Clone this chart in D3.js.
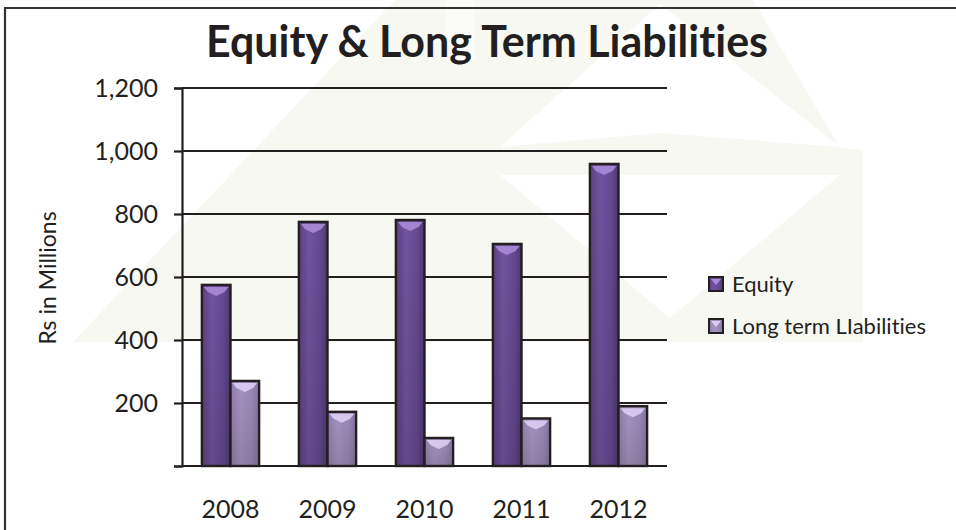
<!DOCTYPE html>
<html>
<head>
<meta charset="utf-8">
<script src="https://cdn.jsdelivr.net/npm/d3@7"></script>
<style>
  html, body { margin: 0; padding: 0; background: #fff; }
  svg { display: block; }
  text { font-family: Lato, "Open Sans", sans-serif; fill: #231f20; font-variant-ligatures: none; font-feature-settings: "liga" 0; }
</style>
</head>
<body>
<svg id="chart" width="956" height="530"></svg>
<script>
// ---- data ----
const years = ["2008", "2009", "2010", "2011", "2012"];
const seriesNames = ["Equity", "Long term LIabilities"];
const equity = [575, 775, 781, 705, 959];
const longTermLiabilities = [270, 172, 89, 151, 190];
const yTicks = [0, 200, 400, 600, 800, 1000, 1200];
const titleText = "Equity & Long Term Liabilities";
const yTitle = "Rs in Millions";

const seriesValues = [equity, longTermLiabilities];
const rows = years.map((yr, i) => ({ year: yr, values: seriesNames.map((s, k) => ({ key: s, k, value: seriesValues[k][i] })) }));

const W = 956, H = 530;
const svg = d3.select("#chart");
const defs = svg.append("defs");

// ---- gradients ----
function hGrad(id, stops) {
  const g = defs.append("linearGradient").attr("id", id).attr("x1", "0").attr("x2", "1").attr("y1", "0").attr("y2", "0");
  stops.forEach(s => g.append("stop").attr("offset", s[0]).attr("stop-color", s[1]));
}
hGrad("gEq", [["0%", "#5a4180"], ["35%", "#7154a0"], ["75%", "#644991"], ["100%", "#4f3870"]]);
hGrad("gLt", [["0%", "#8f7dab"], ["35%", "#a593c0"], ["75%", "#9a88b5"], ["100%", "#85739f"]]);
const vg = defs.append("linearGradient").attr("id", "gShade").attr("x1", "0").attr("x2", "0").attr("y1", "0").attr("y2", "1");
vg.append("stop").attr("offset", "0%").attr("stop-color", "#000").attr("stop-opacity", 0);
vg.append("stop").attr("offset", "100%").attr("stop-color", "#000").attr("stop-opacity", 0.12);
const capColors = ["#a98bd9", "#dccdf3"];
const fills = ["url(#gEq)", "url(#gLt)"];

// ---- watermark (faint background logo) ----
const wm = svg.append("g").attr("fill", "#f7f8f2");
wm.append("path").attr("d", "M73,342 L395,0 L863,0 L863,342 Z");
const wmw = svg.append("g").attr("fill", "#ffffff");
wmw.append("path").attr("d", "M500,147 L660,4 L840,147 L660,133 Z");
wmw.append("path").attr("d", "M500,175 L840,175 L670,318 Z");
wmw.append("path").attr("d", "M753,0 L863,0 L863,150 L840,148 Z");
wmw.append("path").attr("d", "M445,0 L475,0 L475,60 L445,60 Z").attr("opacity", 0.5);

// ---- frame ----
svg.append("path").attr("d", `M5,${H + 5} L5,8 L${W + 5},8`).attr("fill", "none").attr("stroke", "#333").attr("stroke-width", 2.2);

// ---- scales ----
const x0 = d3.scaleBand().domain(years).range([182, 667]).paddingInner(0.41).paddingOuter(0.205);
const x1 = d3.scaleBand().domain(seriesNames).range([0, x0.bandwidth()]);
const y = d3.scaleLinear().domain([0, 1200]).range([466, 88]);

// ---- gridlines ----
svg.append("g").selectAll("line").data(yTicks).join("line")
  .attr("x1", 182).attr("x2", 667)
  .attr("y1", d => y(d)).attr("y2", d => y(d))
  .attr("stroke", "#231f20").attr("stroke-width", 2.2);

// ---- y axis ----
const yAxis = svg.append("g").attr("transform", "translate(182,0)")
  .call(d3.axisLeft(y).tickValues(yTicks).tickSize(8).tickPadding(16)
    .tickFormat(d => d === 0 ? "" : d3.format(",")(d)));
yAxis.select(".domain").attr("stroke", "#231f20").attr("stroke-width", 2.2);
yAxis.selectAll(".tick line").attr("stroke", "#231f20").attr("stroke-width", 2.2);
yAxis.selectAll(".tick text").attr("font-size", 25).attr("font-family", "Lato, sans-serif").attr("fill", "#231f20");

// ---- bars ----
const groups = svg.append("g").selectAll("g").data(rows).join("g")
  .attr("transform", d => `translate(${x0(d.year)},0)`);
const bars = groups.selectAll("g").data(d => d.values).join("g");
bars.append("rect")
  .attr("x", d => x1(d.key)).attr("width", x1.bandwidth())
  .attr("y", d => y(d.value)).attr("height", d => y(0) - y(d.value))
  .attr("fill", d => fills[d.k]);
bars.append("rect")
  .attr("x", d => x1(d.key)).attr("width", x1.bandwidth())
  .attr("y", d => y(d.value)).attr("height", d => y(0) - y(d.value))
  .attr("fill", "url(#gShade)");
bars.append("path")
  .attr("d", d => {
    const xa = x1(d.key) + 2, xb = x1(d.key) + x1.bandwidth() - 2, t = y(d.value) + 2, cx = (xa + xb) / 2;
    return `M${xa},${t} L${xb},${t} L${xb - 4},${t + 5} L${cx},${t + 9} L${xa + 4},${t + 5} Z`;
  })
  .attr("fill", d => capColors[d.k]).attr("opacity", 0.9);
bars.append("rect")
  .attr("x", d => x1(d.key)).attr("width", x1.bandwidth())
  .attr("y", d => y(d.value)).attr("height", d => y(0) - y(d.value))
  .attr("fill", "none").attr("stroke", "#231f20").attr("stroke-width", 2.4);

// ---- x labels ----
svg.append("g").selectAll("text").data(years).join("text")
  .attr("x", d => x0(d) + x0.bandwidth() / 2).attr("y", 518)
  .attr("text-anchor", "middle").attr("font-size", 25)
  .text(d => d);

// ---- title ----
svg.append("text").attr("x", 487).attr("y", 57).attr("text-anchor", "middle")
  .attr("font-size", 43).attr("font-weight", "bold").text(titleText);

// ---- y title ----
svg.append("text").attr("transform", "translate(56,278) rotate(-90)")
  .attr("text-anchor", "middle").attr("font-size", 23).text(yTitle);

// ---- legend ----
const leg = svg.append("g").selectAll("g").data(seriesNames).join("g")
  .attr("transform", (d, i) => `translate(709,${277 + i * 42})`);
leg.append("rect").attr("width", 14).attr("height", 14).attr("fill", (d, i) => fills[i])
  .attr("stroke", "#231f20").attr("stroke-width", 2);
leg.append("path").attr("d", "M2,2 L12,2 L7,8 Z").attr("fill", (d, i) => capColors[i]);
leg.append("text").attr("x", 23).attr("y", 15).attr("font-size", 22).text(d => d);
</script>
</body>
</html>
